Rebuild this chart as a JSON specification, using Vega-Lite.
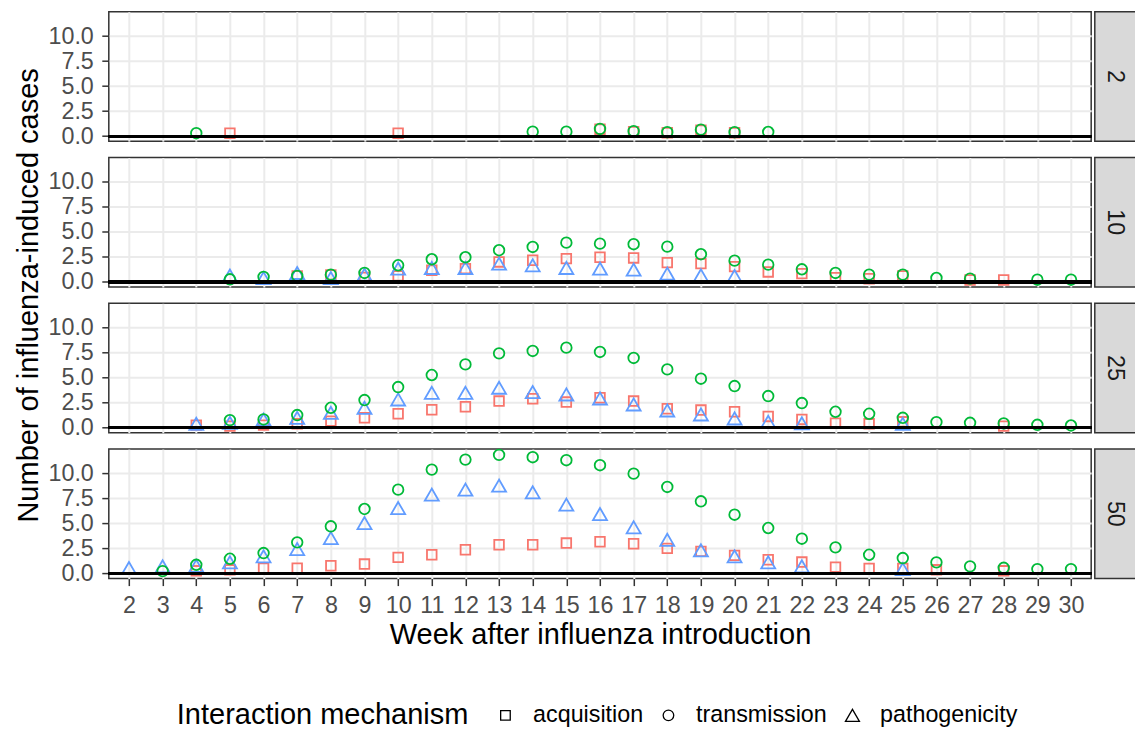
{
  "$schema": "https://vega.github.io/schema/vega-lite/v6.json",
  "padding": {"left": 13.8, "top": 10.7, "right": 0, "bottom": 0},
  "datasets": {
    "cases": [
      {"n": 2, "week": 5, "mechanism": "acquisition", "cases": 0.3},
      {"n": 2, "week": 10, "mechanism": "acquisition", "cases": 0.3},
      {"n": 2, "week": 16, "mechanism": "acquisition", "cases": 0.7},
      {"n": 2, "week": 17, "mechanism": "acquisition", "cases": 0.45},
      {"n": 2, "week": 18, "mechanism": "acquisition", "cases": 0.35},
      {"n": 2, "week": 19, "mechanism": "acquisition", "cases": 0.6},
      {"n": 2, "week": 20, "mechanism": "acquisition", "cases": 0.35},
      {"n": 2, "week": 4, "mechanism": "transmission", "cases": 0.3},
      {"n": 2, "week": 14, "mechanism": "transmission", "cases": 0.45},
      {"n": 2, "week": 15, "mechanism": "transmission", "cases": 0.45},
      {"n": 2, "week": 16, "mechanism": "transmission", "cases": 0.72},
      {"n": 2, "week": 17, "mechanism": "transmission", "cases": 0.5},
      {"n": 2, "week": 18, "mechanism": "transmission", "cases": 0.4},
      {"n": 2, "week": 19, "mechanism": "transmission", "cases": 0.65},
      {"n": 2, "week": 20, "mechanism": "transmission", "cases": 0.4},
      {"n": 2, "week": 21, "mechanism": "transmission", "cases": 0.42},

      {"n": 10, "week": 7, "mechanism": "acquisition", "cases": 0.6},
      {"n": 10, "week": 8, "mechanism": "acquisition", "cases": 0.7},
      {"n": 10, "week": 9, "mechanism": "acquisition", "cases": 0.45},
      {"n": 10, "week": 10, "mechanism": "acquisition", "cases": 0.6},
      {"n": 10, "week": 11, "mechanism": "acquisition", "cases": 1.17},
      {"n": 10, "week": 12, "mechanism": "acquisition", "cases": 1.33},
      {"n": 10, "week": 13, "mechanism": "acquisition", "cases": 2.0},
      {"n": 10, "week": 14, "mechanism": "acquisition", "cases": 2.17},
      {"n": 10, "week": 15, "mechanism": "acquisition", "cases": 2.33},
      {"n": 10, "week": 16, "mechanism": "acquisition", "cases": 2.47},
      {"n": 10, "week": 17, "mechanism": "acquisition", "cases": 2.4},
      {"n": 10, "week": 18, "mechanism": "acquisition", "cases": 1.93},
      {"n": 10, "week": 19, "mechanism": "acquisition", "cases": 1.83},
      {"n": 10, "week": 20, "mechanism": "acquisition", "cases": 1.53},
      {"n": 10, "week": 21, "mechanism": "acquisition", "cases": 1.0},
      {"n": 10, "week": 22, "mechanism": "acquisition", "cases": 0.83},
      {"n": 10, "week": 23, "mechanism": "acquisition", "cases": 0.43},
      {"n": 10, "week": 24, "mechanism": "acquisition", "cases": 0.33},
      {"n": 10, "week": 25, "mechanism": "acquisition", "cases": 0.6},
      {"n": 10, "week": 27, "mechanism": "acquisition", "cases": 0.2},
      {"n": 10, "week": 28, "mechanism": "acquisition", "cases": 0.2},
      {"n": 10, "week": 5, "mechanism": "pathogenicity", "cases": 0.65},
      {"n": 10, "week": 6, "mechanism": "pathogenicity", "cases": 0.4},
      {"n": 10, "week": 7, "mechanism": "pathogenicity", "cases": 0.9},
      {"n": 10, "week": 8, "mechanism": "pathogenicity", "cases": 0.4},
      {"n": 10, "week": 9, "mechanism": "pathogenicity", "cases": 0.73},
      {"n": 10, "week": 10, "mechanism": "pathogenicity", "cases": 1.33},
      {"n": 10, "week": 11, "mechanism": "pathogenicity", "cases": 1.4},
      {"n": 10, "week": 12, "mechanism": "pathogenicity", "cases": 1.4},
      {"n": 10, "week": 13, "mechanism": "pathogenicity", "cases": 1.83},
      {"n": 10, "week": 14, "mechanism": "pathogenicity", "cases": 1.67},
      {"n": 10, "week": 15, "mechanism": "pathogenicity", "cases": 1.4},
      {"n": 10, "week": 16, "mechanism": "pathogenicity", "cases": 1.33},
      {"n": 10, "week": 17, "mechanism": "pathogenicity", "cases": 1.23},
      {"n": 10, "week": 18, "mechanism": "pathogenicity", "cases": 0.83},
      {"n": 10, "week": 19, "mechanism": "pathogenicity", "cases": 0.67},
      {"n": 10, "week": 20, "mechanism": "pathogenicity", "cases": 0.6},
      {"n": 10, "week": 5, "mechanism": "transmission", "cases": 0.27},
      {"n": 10, "week": 6, "mechanism": "transmission", "cases": 0.5},
      {"n": 10, "week": 7, "mechanism": "transmission", "cases": 0.6},
      {"n": 10, "week": 8, "mechanism": "transmission", "cases": 0.73},
      {"n": 10, "week": 9, "mechanism": "transmission", "cases": 0.9},
      {"n": 10, "week": 10, "mechanism": "transmission", "cases": 1.67},
      {"n": 10, "week": 11, "mechanism": "transmission", "cases": 2.27},
      {"n": 10, "week": 12, "mechanism": "transmission", "cases": 2.47},
      {"n": 10, "week": 13, "mechanism": "transmission", "cases": 3.17},
      {"n": 10, "week": 14, "mechanism": "transmission", "cases": 3.5},
      {"n": 10, "week": 15, "mechanism": "transmission", "cases": 3.93},
      {"n": 10, "week": 16, "mechanism": "transmission", "cases": 3.83},
      {"n": 10, "week": 17, "mechanism": "transmission", "cases": 3.77},
      {"n": 10, "week": 18, "mechanism": "transmission", "cases": 3.53},
      {"n": 10, "week": 19, "mechanism": "transmission", "cases": 2.77},
      {"n": 10, "week": 20, "mechanism": "transmission", "cases": 2.13},
      {"n": 10, "week": 21, "mechanism": "transmission", "cases": 1.73},
      {"n": 10, "week": 22, "mechanism": "transmission", "cases": 1.27},
      {"n": 10, "week": 23, "mechanism": "transmission", "cases": 0.9},
      {"n": 10, "week": 24, "mechanism": "transmission", "cases": 0.73},
      {"n": 10, "week": 25, "mechanism": "transmission", "cases": 0.73},
      {"n": 10, "week": 26, "mechanism": "transmission", "cases": 0.4},
      {"n": 10, "week": 27, "mechanism": "transmission", "cases": 0.33},
      {"n": 10, "week": 29, "mechanism": "transmission", "cases": 0.23},
      {"n": 10, "week": 30, "mechanism": "transmission", "cases": 0.23},

      {"n": 25, "week": 4, "mechanism": "acquisition", "cases": 0.27},
      {"n": 25, "week": 5, "mechanism": "acquisition", "cases": 0.17},
      {"n": 25, "week": 6, "mechanism": "acquisition", "cases": 0.27},
      {"n": 25, "week": 7, "mechanism": "acquisition", "cases": 0.4},
      {"n": 25, "week": 8, "mechanism": "acquisition", "cases": 0.67},
      {"n": 25, "week": 9, "mechanism": "acquisition", "cases": 1.0},
      {"n": 25, "week": 10, "mechanism": "acquisition", "cases": 1.4},
      {"n": 25, "week": 11, "mechanism": "acquisition", "cases": 1.8},
      {"n": 25, "week": 12, "mechanism": "acquisition", "cases": 2.1},
      {"n": 25, "week": 13, "mechanism": "acquisition", "cases": 2.67},
      {"n": 25, "week": 14, "mechanism": "acquisition", "cases": 2.9},
      {"n": 25, "week": 15, "mechanism": "acquisition", "cases": 2.57},
      {"n": 25, "week": 16, "mechanism": "acquisition", "cases": 3.0},
      {"n": 25, "week": 17, "mechanism": "acquisition", "cases": 2.67},
      {"n": 25, "week": 18, "mechanism": "acquisition", "cases": 1.9},
      {"n": 25, "week": 19, "mechanism": "acquisition", "cases": 1.77},
      {"n": 25, "week": 20, "mechanism": "acquisition", "cases": 1.6},
      {"n": 25, "week": 21, "mechanism": "acquisition", "cases": 1.13},
      {"n": 25, "week": 22, "mechanism": "acquisition", "cases": 0.83},
      {"n": 25, "week": 23, "mechanism": "acquisition", "cases": 0.47},
      {"n": 25, "week": 24, "mechanism": "acquisition", "cases": 0.4},
      {"n": 25, "week": 25, "mechanism": "acquisition", "cases": 0.6},
      {"n": 25, "week": 28, "mechanism": "acquisition", "cases": 0.17},
      {"n": 25, "week": 4, "mechanism": "pathogenicity", "cases": 0.4},
      {"n": 25, "week": 5, "mechanism": "pathogenicity", "cases": 0.5},
      {"n": 25, "week": 6, "mechanism": "pathogenicity", "cases": 0.83},
      {"n": 25, "week": 7, "mechanism": "pathogenicity", "cases": 1.0},
      {"n": 25, "week": 8, "mechanism": "pathogenicity", "cases": 1.5},
      {"n": 25, "week": 9, "mechanism": "pathogenicity", "cases": 2.0},
      {"n": 25, "week": 10, "mechanism": "pathogenicity", "cases": 2.83},
      {"n": 25, "week": 11, "mechanism": "pathogenicity", "cases": 3.5},
      {"n": 25, "week": 12, "mechanism": "pathogenicity", "cases": 3.5},
      {"n": 25, "week": 13, "mechanism": "pathogenicity", "cases": 4.0},
      {"n": 25, "week": 14, "mechanism": "pathogenicity", "cases": 3.57},
      {"n": 25, "week": 15, "mechanism": "pathogenicity", "cases": 3.33},
      {"n": 25, "week": 16, "mechanism": "pathogenicity", "cases": 2.93},
      {"n": 25, "week": 17, "mechanism": "pathogenicity", "cases": 2.33},
      {"n": 25, "week": 18, "mechanism": "pathogenicity", "cases": 1.73},
      {"n": 25, "week": 19, "mechanism": "pathogenicity", "cases": 1.33},
      {"n": 25, "week": 20, "mechanism": "pathogenicity", "cases": 0.93},
      {"n": 25, "week": 21, "mechanism": "pathogenicity", "cases": 0.6},
      {"n": 25, "week": 22, "mechanism": "pathogenicity", "cases": 0.45},
      {"n": 25, "week": 25, "mechanism": "pathogenicity", "cases": 0.4},
      {"n": 25, "week": 5, "mechanism": "transmission", "cases": 0.77},
      {"n": 25, "week": 6, "mechanism": "transmission", "cases": 0.83},
      {"n": 25, "week": 7, "mechanism": "transmission", "cases": 1.27},
      {"n": 25, "week": 8, "mechanism": "transmission", "cases": 2.0},
      {"n": 25, "week": 9, "mechanism": "transmission", "cases": 2.77},
      {"n": 25, "week": 10, "mechanism": "transmission", "cases": 4.07},
      {"n": 25, "week": 11, "mechanism": "transmission", "cases": 5.27},
      {"n": 25, "week": 12, "mechanism": "transmission", "cases": 6.33},
      {"n": 25, "week": 13, "mechanism": "transmission", "cases": 7.43},
      {"n": 25, "week": 14, "mechanism": "transmission", "cases": 7.67},
      {"n": 25, "week": 15, "mechanism": "transmission", "cases": 8.0},
      {"n": 25, "week": 16, "mechanism": "transmission", "cases": 7.57},
      {"n": 25, "week": 17, "mechanism": "transmission", "cases": 6.97},
      {"n": 25, "week": 18, "mechanism": "transmission", "cases": 5.83},
      {"n": 25, "week": 19, "mechanism": "transmission", "cases": 4.9},
      {"n": 25, "week": 20, "mechanism": "transmission", "cases": 4.17},
      {"n": 25, "week": 21, "mechanism": "transmission", "cases": 3.17},
      {"n": 25, "week": 22, "mechanism": "transmission", "cases": 2.47},
      {"n": 25, "week": 23, "mechanism": "transmission", "cases": 1.6},
      {"n": 25, "week": 24, "mechanism": "transmission", "cases": 1.4},
      {"n": 25, "week": 25, "mechanism": "transmission", "cases": 1.0},
      {"n": 25, "week": 26, "mechanism": "transmission", "cases": 0.57},
      {"n": 25, "week": 27, "mechanism": "transmission", "cases": 0.5},
      {"n": 25, "week": 28, "mechanism": "transmission", "cases": 0.43},
      {"n": 25, "week": 29, "mechanism": "transmission", "cases": 0.3},
      {"n": 25, "week": 30, "mechanism": "transmission", "cases": 0.23},

      {"n": 50, "week": 4, "mechanism": "acquisition", "cases": 0.28},
      {"n": 50, "week": 5, "mechanism": "acquisition", "cases": 0.38},
      {"n": 50, "week": 6, "mechanism": "acquisition", "cases": 0.55},
      {"n": 50, "week": 7, "mechanism": "acquisition", "cases": 0.55},
      {"n": 50, "week": 8, "mechanism": "acquisition", "cases": 0.78},
      {"n": 50, "week": 9, "mechanism": "acquisition", "cases": 0.95},
      {"n": 50, "week": 10, "mechanism": "acquisition", "cases": 1.62},
      {"n": 50, "week": 11, "mechanism": "acquisition", "cases": 1.88},
      {"n": 50, "week": 12, "mechanism": "acquisition", "cases": 2.38},
      {"n": 50, "week": 13, "mechanism": "acquisition", "cases": 2.88},
      {"n": 50, "week": 14, "mechanism": "acquisition", "cases": 2.88},
      {"n": 50, "week": 15, "mechanism": "acquisition", "cases": 3.05},
      {"n": 50, "week": 16, "mechanism": "acquisition", "cases": 3.18},
      {"n": 50, "week": 17, "mechanism": "acquisition", "cases": 2.98},
      {"n": 50, "week": 18, "mechanism": "acquisition", "cases": 2.52},
      {"n": 50, "week": 19, "mechanism": "acquisition", "cases": 2.22},
      {"n": 50, "week": 20, "mechanism": "acquisition", "cases": 1.82},
      {"n": 50, "week": 21, "mechanism": "acquisition", "cases": 1.38},
      {"n": 50, "week": 22, "mechanism": "acquisition", "cases": 1.15},
      {"n": 50, "week": 23, "mechanism": "acquisition", "cases": 0.65},
      {"n": 50, "week": 24, "mechanism": "acquisition", "cases": 0.52},
      {"n": 50, "week": 25, "mechanism": "acquisition", "cases": 0.52},
      {"n": 50, "week": 26, "mechanism": "acquisition", "cases": 0.38},
      {"n": 50, "week": 28, "mechanism": "acquisition", "cases": 0.28},
      {"n": 50, "week": 2, "mechanism": "pathogenicity", "cases": 0.55},
      {"n": 50, "week": 3, "mechanism": "pathogenicity", "cases": 0.72},
      {"n": 50, "week": 4, "mechanism": "pathogenicity", "cases": 0.78},
      {"n": 50, "week": 5, "mechanism": "pathogenicity", "cases": 1.12},
      {"n": 50, "week": 6, "mechanism": "pathogenicity", "cases": 1.72},
      {"n": 50, "week": 7, "mechanism": "pathogenicity", "cases": 2.45},
      {"n": 50, "week": 8, "mechanism": "pathogenicity", "cases": 3.55},
      {"n": 50, "week": 9, "mechanism": "pathogenicity", "cases": 5.05},
      {"n": 50, "week": 10, "mechanism": "pathogenicity", "cases": 6.55},
      {"n": 50, "week": 11, "mechanism": "pathogenicity", "cases": 7.88},
      {"n": 50, "week": 12, "mechanism": "pathogenicity", "cases": 8.38},
      {"n": 50, "week": 13, "mechanism": "pathogenicity", "cases": 8.78},
      {"n": 50, "week": 14, "mechanism": "pathogenicity", "cases": 8.12},
      {"n": 50, "week": 15, "mechanism": "pathogenicity", "cases": 6.88},
      {"n": 50, "week": 16, "mechanism": "pathogenicity", "cases": 5.95},
      {"n": 50, "week": 17, "mechanism": "pathogenicity", "cases": 4.62},
      {"n": 50, "week": 18, "mechanism": "pathogenicity", "cases": 3.38},
      {"n": 50, "week": 19, "mechanism": "pathogenicity", "cases": 2.32},
      {"n": 50, "week": 20, "mechanism": "pathogenicity", "cases": 1.72},
      {"n": 50, "week": 21, "mechanism": "pathogenicity", "cases": 1.12},
      {"n": 50, "week": 22, "mechanism": "pathogenicity", "cases": 0.72},
      {"n": 50, "week": 25, "mechanism": "pathogenicity", "cases": 0.45},
      {"n": 50, "week": 3, "mechanism": "transmission", "cases": 0.25},
      {"n": 50, "week": 4, "mechanism": "transmission", "cases": 0.88},
      {"n": 50, "week": 5, "mechanism": "transmission", "cases": 1.48},
      {"n": 50, "week": 6, "mechanism": "transmission", "cases": 2.05},
      {"n": 50, "week": 7, "mechanism": "transmission", "cases": 3.12},
      {"n": 50, "week": 8, "mechanism": "transmission", "cases": 4.72},
      {"n": 50, "week": 9, "mechanism": "transmission", "cases": 6.45},
      {"n": 50, "week": 10, "mechanism": "transmission", "cases": 8.38},
      {"n": 50, "week": 11, "mechanism": "transmission", "cases": 10.38},
      {"n": 50, "week": 12, "mechanism": "transmission", "cases": 11.38},
      {"n": 50, "week": 13, "mechanism": "transmission", "cases": 11.85},
      {"n": 50, "week": 14, "mechanism": "transmission", "cases": 11.62},
      {"n": 50, "week": 15, "mechanism": "transmission", "cases": 11.32},
      {"n": 50, "week": 16, "mechanism": "transmission", "cases": 10.82},
      {"n": 50, "week": 17, "mechanism": "transmission", "cases": 9.98},
      {"n": 50, "week": 18, "mechanism": "transmission", "cases": 8.65},
      {"n": 50, "week": 19, "mechanism": "transmission", "cases": 7.22},
      {"n": 50, "week": 20, "mechanism": "transmission", "cases": 5.88},
      {"n": 50, "week": 21, "mechanism": "transmission", "cases": 4.55},
      {"n": 50, "week": 22, "mechanism": "transmission", "cases": 3.48},
      {"n": 50, "week": 23, "mechanism": "transmission", "cases": 2.62},
      {"n": 50, "week": 24, "mechanism": "transmission", "cases": 1.88},
      {"n": 50, "week": 25, "mechanism": "transmission", "cases": 1.55},
      {"n": 50, "week": 26, "mechanism": "transmission", "cases": 1.12},
      {"n": 50, "week": 27, "mechanism": "transmission", "cases": 0.72},
      {"n": 50, "week": 28, "mechanism": "transmission", "cases": 0.58},
      {"n": 50, "week": 29, "mechanism": "transmission", "cases": 0.45},
      {"n": 50, "week": 30, "mechanism": "transmission", "cases": 0.45}
    ]
  },
  "spacing": 0,
  "hconcat": [
    {
      "bounds": "flush", "spacing": 15.8,
      "vconcat": [
        {
          "width": 982.4, "height": 129.5,
          "data": {"name": "cases"},
          "transform": [{"filter": "datum.n == 2"}],
          "layer": [
            {"mark": {"type": "point", "filled": false, "opacity": 1, "strokeWidth": 1.8, "color": "black"},
             "encoding": {
               "x": {"field": "week", "type": "ordinal", "scale": {"type": "point", "domain": [2,3,4,5,6,7,8,9,10,11,12,13,14,15,16,17,18,19,20,21,22,23,24,25,26,27,28,29,30], "padding": 0.6}, "axis": {"labels": false, "ticks": false, "title": null, "grid": true}},
               "y": {"field": "cases", "type": "quantitative", "scale": {"domain": [-0.5, 12.43], "nice": false, "zero": false}, "axis": {"values": [0, 2.5, 5, 7.5, 10], "format": ".1f", "title": null, "orient": "left"}},
               "color": {"field": "mechanism", "type": "nominal", "legend": null, "scale": {"domain": ["acquisition", "pathogenicity", "transmission"], "range": ["#F8766D", "#619CFF", "#00BA38"]}},
               "shape": {"field": "mechanism", "type": "nominal", "title": "Interaction mechanism", "scale": {"domain": ["acquisition", "transmission", "pathogenicity"], "range": ["square", "circle", "triangle-up"]}, "legend": {"orient": "none", "legendX": 68, "legendY": 692, "direction": "horizontal", "encode": {"symbols": {"update": {"size": {"value": 72}, "strokeWidth": {"value": 1.3}}}}}},
               "size": {"field": "mechanism", "type": "nominal", "title": "Interaction mechanism", "scale": {"type": "ordinal", "domain": ["acquisition", "transmission", "pathogenicity"], "range": [92, 112, 195]}, "legend": {"orient": "none", "legendX": 68, "legendY": 692, "direction": "horizontal", "encode": {"symbols": {"update": {"size": {"value": 72}, "strokeWidth": {"value": 1.3}}}}}}
             }},
            {"mark": {"type": "rule", "color": "black", "strokeWidth": 2.6},
             "encoding": {"y": {"datum": 0, "type": "quantitative", "axis": {"orient": "right", "values": [1.25, 3.75, 6.25, 8.75, 11.25], "labels": false, "ticks": false, "domain": false, "title": null, "gridWidth": 1.1}}}}
          ]
        },
        {
          "width": 982.4, "height": 129.5,
          "data": {"name": "cases"},
          "transform": [{"filter": "datum.n == 10"}],
          "layer": [
            {"mark": {"type": "point", "filled": false, "opacity": 1, "strokeWidth": 1.8, "color": "black"},
             "encoding": {
               "x": {"field": "week", "type": "ordinal", "scale": {"type": "point", "domain": [2,3,4,5,6,7,8,9,10,11,12,13,14,15,16,17,18,19,20,21,22,23,24,25,26,27,28,29,30], "padding": 0.6}, "axis": {"labels": false, "ticks": false, "title": null, "grid": true}},
               "y": {"field": "cases", "type": "quantitative", "scale": {"domain": [-0.5, 12.43], "nice": false, "zero": false}, "axis": {"values": [0, 2.5, 5, 7.5, 10], "format": ".1f", "title": "Number of influenza-induced cases", "titleY": 137.4, "titlePadding": 4, "orient": "left"}},
               "color": {"field": "mechanism", "type": "nominal", "legend": null, "scale": {"domain": ["acquisition", "pathogenicity", "transmission"], "range": ["#F8766D", "#619CFF", "#00BA38"]}},
               "shape": {"field": "mechanism", "type": "nominal", "title": "Interaction mechanism", "scale": {"domain": ["acquisition", "transmission", "pathogenicity"], "range": ["square", "circle", "triangle-up"]}, "legend": {"orient": "none", "legendX": 68, "legendY": 692, "direction": "horizontal", "encode": {"symbols": {"update": {"size": {"value": 72}, "strokeWidth": {"value": 1.3}}}}}},
               "size": {"field": "mechanism", "type": "nominal", "title": "Interaction mechanism", "scale": {"type": "ordinal", "domain": ["acquisition", "transmission", "pathogenicity"], "range": [92, 112, 195]}, "legend": {"orient": "none", "legendX": 68, "legendY": 692, "direction": "horizontal", "encode": {"symbols": {"update": {"size": {"value": 72}, "strokeWidth": {"value": 1.3}}}}}}
             }},
            {"mark": {"type": "rule", "color": "black", "strokeWidth": 2.6},
             "encoding": {"y": {"datum": 0, "type": "quantitative", "axis": {"orient": "right", "values": [1.25, 3.75, 6.25, 8.75, 11.25], "labels": false, "ticks": false, "domain": false, "title": null, "gridWidth": 1.1}}}}
          ]
        },
        {
          "width": 982.4, "height": 129.5,
          "data": {"name": "cases"},
          "transform": [{"filter": "datum.n == 25"}],
          "layer": [
            {"mark": {"type": "point", "filled": false, "opacity": 1, "strokeWidth": 1.8, "color": "black"},
             "encoding": {
               "x": {"field": "week", "type": "ordinal", "scale": {"type": "point", "domain": [2,3,4,5,6,7,8,9,10,11,12,13,14,15,16,17,18,19,20,21,22,23,24,25,26,27,28,29,30], "padding": 0.6}, "axis": {"labels": false, "ticks": false, "title": null, "grid": true}},
               "y": {"field": "cases", "type": "quantitative", "scale": {"domain": [-0.5, 12.43], "nice": false, "zero": false}, "axis": {"values": [0, 2.5, 5, 7.5, 10], "format": ".1f", "title": null, "orient": "left"}},
               "color": {"field": "mechanism", "type": "nominal", "legend": null, "scale": {"domain": ["acquisition", "pathogenicity", "transmission"], "range": ["#F8766D", "#619CFF", "#00BA38"]}},
               "shape": {"field": "mechanism", "type": "nominal", "title": "Interaction mechanism", "scale": {"domain": ["acquisition", "transmission", "pathogenicity"], "range": ["square", "circle", "triangle-up"]}, "legend": {"orient": "none", "legendX": 68, "legendY": 692, "direction": "horizontal", "encode": {"symbols": {"update": {"size": {"value": 72}, "strokeWidth": {"value": 1.3}}}}}},
               "size": {"field": "mechanism", "type": "nominal", "title": "Interaction mechanism", "scale": {"type": "ordinal", "domain": ["acquisition", "transmission", "pathogenicity"], "range": [92, 112, 195]}, "legend": {"orient": "none", "legendX": 68, "legendY": 692, "direction": "horizontal", "encode": {"symbols": {"update": {"size": {"value": 72}, "strokeWidth": {"value": 1.3}}}}}}
             }},
            {"mark": {"type": "rule", "color": "black", "strokeWidth": 2.6},
             "encoding": {"y": {"datum": 0, "type": "quantitative", "axis": {"orient": "right", "values": [1.25, 3.75, 6.25, 8.75, 11.25], "labels": false, "ticks": false, "domain": false, "title": null, "gridWidth": 1.1}}}}
          ]
        },
        {
          "width": 982.4, "height": 129.5,
          "data": {"name": "cases"},
          "transform": [{"filter": "datum.n == 50"}],
          "layer": [
            {"mark": {"type": "point", "filled": false, "opacity": 1, "strokeWidth": 1.8, "color": "black"},
             "encoding": {
               "x": {"field": "week", "type": "ordinal", "scale": {"type": "point", "domain": [2,3,4,5,6,7,8,9,10,11,12,13,14,15,16,17,18,19,20,21,22,23,24,25,26,27,28,29,30], "padding": 0.6}, "axis": {"labelAngle": 0, "title": "Week after influenza introduction", "grid": true, "titlePadding": 4}},
               "y": {"field": "cases", "type": "quantitative", "scale": {"domain": [-0.5, 12.43], "nice": false, "zero": false}, "axis": {"values": [0, 2.5, 5, 7.5, 10], "format": ".1f", "title": null, "orient": "left"}},
               "color": {"field": "mechanism", "type": "nominal", "legend": null, "scale": {"domain": ["acquisition", "pathogenicity", "transmission"], "range": ["#F8766D", "#619CFF", "#00BA38"]}},
               "shape": {"field": "mechanism", "type": "nominal", "title": "Interaction mechanism", "scale": {"domain": ["acquisition", "transmission", "pathogenicity"], "range": ["square", "circle", "triangle-up"]}, "legend": {"orient": "none", "legendX": 68, "legendY": 692, "direction": "horizontal", "encode": {"symbols": {"update": {"size": {"value": 72}, "strokeWidth": {"value": 1.3}}}}}},
               "size": {"field": "mechanism", "type": "nominal", "title": "Interaction mechanism", "scale": {"type": "ordinal", "domain": ["acquisition", "transmission", "pathogenicity"], "range": [92, 112, 195]}, "legend": {"orient": "none", "legendX": 68, "legendY": 692, "direction": "horizontal", "encode": {"symbols": {"update": {"size": {"value": 72}, "strokeWidth": {"value": 1.3}}}}}}
             }},
            {"mark": {"type": "rule", "color": "black", "strokeWidth": 2.6},
             "encoding": {"y": {"datum": 0, "type": "quantitative", "axis": {"orient": "right", "values": [1.25, 3.75, 6.25, 8.75, 11.25], "labels": false, "ticks": false, "domain": false, "title": null, "gridWidth": 1.1}}}}
          ]
        }
      ]
    },
    {
      "bounds": "flush", "spacing": 15.8,
      "vconcat": [
        {
          "width": 41, "height": 129.5,
          "view": {"fill": "#D9D9D9", "stroke": "#333333", "strokeWidth": 1.5},
          "data": {"values": [{"n": "2"}]},
          "mark": {"type": "text", "angle": 90, "fontSize": 23.3, "color": "#1A1A1A", "baseline": "middle", "align": "center"},
          "encoding": {"text": {"field": "n", "type": "nominal"}}
        },
        {
          "width": 41, "height": 129.5,
          "view": {"fill": "#D9D9D9", "stroke": "#333333", "strokeWidth": 1.5},
          "data": {"values": [{"n": "10"}]},
          "mark": {"type": "text", "angle": 90, "fontSize": 23.3, "color": "#1A1A1A", "baseline": "middle", "align": "center"},
          "encoding": {"text": {"field": "n", "type": "nominal"}}
        },
        {
          "width": 41, "height": 129.5,
          "view": {"fill": "#D9D9D9", "stroke": "#333333", "strokeWidth": 1.5},
          "data": {"values": [{"n": "25"}]},
          "mark": {"type": "text", "angle": 90, "fontSize": 23.3, "color": "#1A1A1A", "baseline": "middle", "align": "center"},
          "encoding": {"text": {"field": "n", "type": "nominal"}}
        },
        {
          "width": 41, "height": 129.5,
          "view": {"fill": "#D9D9D9", "stroke": "#333333", "strokeWidth": 1.5},
          "data": {"values": [{"n": "50"}]},
          "mark": {"type": "text", "angle": 90, "fontSize": 23.3, "color": "#1A1A1A", "baseline": "middle", "align": "center"},
          "encoding": {"text": {"field": "n", "type": "nominal"}}
        }
      ]
    }
  ],
  "config": {
    "font": "Liberation Sans",
    "view": {"stroke": "#333333", "strokeWidth": 1.5},
    "axis": {
      "labelFont": "Liberation Sans", "labelFontSize": 23.3, "labelColor": "#4D4D4D",
      "tickColor": "#333333", "tickSize": 7, "tickWidth": 1.5, "labelPadding": 8.5,
      "domain": false, "gridColor": "#EBEBEB", "gridWidth": 2,
      "titleFont": "Liberation Sans", "titleFontSize": 29, "titleFontWeight": "normal", "titleColor": "black"
    },
    "legend": {
      "orient": "bottom", "direction": "horizontal", "titleOrient": "left", "titleLimit": 1000, "labelLimit": 1000,
      "titleFont": "Liberation Sans", "titleFontSize": 29, "titleFontWeight": "normal", "titleColor": "black",
      "labelFont": "Liberation Sans", "labelFontSize": 23.3, "labelColor": "black",
      "symbolStrokeColor": "black", "symbolFillColor": "transparent", "symbolStrokeWidth": 1.3, "symbolOpacity": 1,
      "labelOffset": 16, "columnPadding": 13, "titlePadding": 25, "offset": 53
    }
  },
  "encoding": {}
}
